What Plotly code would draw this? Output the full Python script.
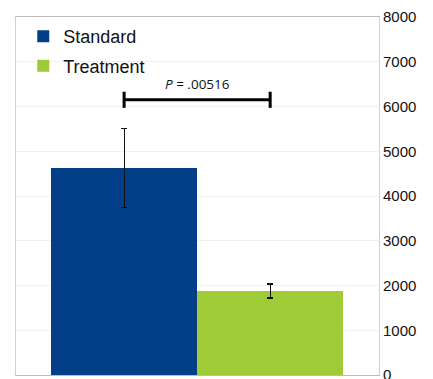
import plotly.graph_objects as go

groups = ["Standard", "Treatment"]
means = [4625, 1877]
errors = [880, 157]
colors = ["#023F88", "#9FCB37"]
p_label = "<i>P</i> = .00516"
bracket_level = 6150
y_ticks = [0, 1000, 2000, 3000, 4000, 5000, 6000, 7000, 8000]

xs = list(range(len(groups)))
fig = go.Figure()
for i, g in enumerate(groups):
    fig.add_trace(go.Bar(
        x=[xs[i]], y=[means[i]], name=g, width=1, legendgroup=g,
        marker=dict(color=colors[i], line=dict(color=colors[i], width=0)),
        error_y=dict(type="data", array=[errors[i]], color="#111", thickness=1.2, width=3),
    ))

# significance bracket
fig.add_shape(type="line", x0=xs[0], x1=xs[1], y0=bracket_level, y1=bracket_level,
              line=dict(color="black", width=3))
for xv in (xs[0], xs[1]):
    fig.add_shape(type="line", x0=xv, x1=xv, y0=bracket_level - 180, y1=bracket_level + 180,
                  line=dict(color="black", width=3))
fig.add_annotation(x=(xs[0] + xs[1]) / 2, y=bracket_level, yshift=16, text=p_label,
                   showarrow=False, font=dict(family="Open Sans", size=13.5, color="#111"))

# page has an 8px body margin: size the figure so the plot lands where the reference has it
fig.update_layout(
    width=425, height=371,
    margin=dict(l=8, r=54, t=9, b=4, autoexpand=False),
    paper_bgcolor="white", plot_bgcolor="white",
    showlegend=True,
    legend=dict(x=0.02, y=0.997, xanchor="left", yanchor="top",
                font=dict(family="Liberation Sans", size=18, color="#111"),
                bgcolor="rgba(0,0,0,0)", itemsizing="constant", tracegroupgap=3),
    font=dict(family="Liberation Sans", size=14, color="#111"),
    bargap=0,
)
fig.update_xaxes(range=[-0.74, 1.745], showticklabels=False, showgrid=False, zeroline=False,
                 showline=True, linecolor="#bbbbbb", linewidth=1, mirror=True, ticks="",
                 automargin=False)
fig.update_yaxes(range=[0, 8000], side="right", tickvals=y_ticks, ticktext=[str(v) for v in y_ticks],
                 showgrid=True, gridcolor="#f1f1f1", gridwidth=1, zeroline=False,
                 showline=True, linecolor="#d0d0d0", linewidth=1, mirror=True, ticks="", ticklen=0,
                 automargin=False, ticklabeloverflow="allow",
                 tickfont=dict(family="Liberation Sans", size=15, color="#111"))

fig.write_html("out.html")
